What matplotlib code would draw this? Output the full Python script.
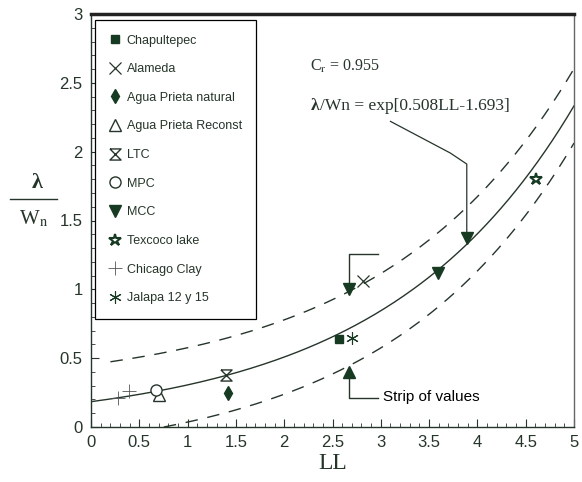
import numpy as np
import matplotlib.pyplot as plt
from matplotlib.lines import Line2D

plt.rcParams['font.family'] = ['Liberation Sans', 'DejaVu Sans']
plt.rcParams['mathtext.fontset'] = 'stix'

ink = '#26352a'
mark = '#173a22'

# fitted relation printed on the chart: lambda/Wn = exp[a*LL + b]
fit_a = 0.508
fit_b = -1.693
band = 0.27          # half width of the strip of values
band_lo_start = 0.75
band_hi_start = 0.2

# measured points (LL, lambda/Wn)
series = ['Chapultepec', 'Alameda', 'Agua Prieta natural', 'Agua Prieta Reconst',
          'LTC', 'MPC', 'MCC', 'Texcoco lake', 'Chicago Clay', 'Jalapa 12 y 15']
ll_vals = {
    'Chapultepec': [2.57],
    'Alameda': [2.82],
    'Agua Prieta natural': [1.42],
    'Agua Prieta Reconst': [0.70],
    'LTC': [1.40],
    'MPC': [0.67],
    'MCC': [3.59],
    'Texcoco lake': [4.61],
    'Chicago Clay': [0.28, 0.39],
    'Jalapa 12 y 15': [2.70],
}
lam_vals = {
    'Chapultepec': [0.64],
    'Alameda': [1.06],
    'Agua Prieta natural': [0.25],
    'Agua Prieta Reconst': [0.23],
    'LTC': [0.38],
    'MPC': [0.27],
    'MCC': [1.12],
    'Texcoco lake': [1.80],
    'Chicago Clay': [0.21, 0.26],
    'Jalapa 12 y 15': [0.645],
}

hourglass = [(-1, 1), (1, 1), (-1, -1), (1, -1), (-1, 1)]
styles = {
    'Chapultepec': dict(marker='s', ms=6, mfc=mark, mec=mark),
    'Alameda': dict(marker='x', ms=9, mew=0.9, mec=ink),
    'Agua Prieta natural': dict(marker='d', ms=7, mfc=mark, mec=mark),
    'Agua Prieta Reconst': dict(marker='^', ms=8, mfc='white', mec=ink, mew=1),
    'LTC': dict(marker=hourglass, ms=8, mfc='white', mec=ink, mew=1),
    'MPC': dict(marker='o', ms=8, mfc='white', mec=ink, mew=1),
    'MCC': dict(marker='v', ms=8, mfc=mark, mec=mark),
    'Texcoco lake': dict(marker='*', ms=9, mfc='white', mec=mark, mew=1.5),
    'Chicago Clay': dict(marker='+', ms=10, mew=0.6, mec='#555'),
    'Jalapa 12 y 15': dict(marker=(6, 2, 0), ms=9, mew=0.8, mec=mark),
}

fig = plt.figure(figsize=(5.82, 4.82), dpi=100)
ax = fig.add_axes([91 / 582, 1 - 427 / 482, 483 / 582, 413 / 482])

# fit curve and strip
x = np.linspace(0, 5, 200)
fit = np.exp(fit_a * x + fit_b)
ax.plot(x, fit, color=ink, lw=1)
xh = x[x >= band_hi_start]
ax.plot(xh, np.exp(fit_a * xh + fit_b) + band, color=ink, lw=1, dashes=(9, 7))
xl = x[x >= band_lo_start]
ax.plot(xl, np.exp(fit_a * xl + fit_b) - band, color=ink, lw=1, dashes=(9, 7))

handles = []
for name in series:
    st = styles[name]
    ax.plot(ll_vals[name], lam_vals[name], ls='none', **st)
    handles.append(Line2D([], [], ls='none', **st))

# arrows pointing at the strip and the fit
ax.plot([2.97, 2.67, 2.67], [1.26, 1.26, 1.03], color=ink, lw=1)
ax.plot([2.67], [1.0], marker='v', ms=8, color=mark)
ax.plot([2.97, 2.67, 2.67], [0.21, 0.21, 0.37], color=ink, lw=1)
ax.plot([2.67], [0.40], marker='^', ms=8, color=mark)
ax.plot([3.10, 3.72, 3.89, 3.89], [2.22, 1.99, 1.91, 1.40], color=ink, lw=0.9)
ax.plot([3.89], [1.37], marker='v', ms=8, color=mark)

ax.text(3.02, 0.22, 'Strip of values', fontsize=11, color='black', va='center')
ax.text(2.27, 2.62, r'C$_\mathrm{r}$ = 0.955', fontsize=11.5, color=ink,
        family='Liberation Serif', va='center')
ax.text(2.27, 2.33, 'λ', fontsize=12.5, fontweight='bold', color=ink,
        family='Liberation Serif', va='center')
ax.text(2.37, 2.33, '/Wn = exp[0.508LL-1.693]', fontsize=12.5, color=ink,
        family='Liberation Serif', va='center')

leg = ax.legend(handles, series, loc='upper left', bbox_to_anchor=(0.008, 0.985),
                borderaxespad=0, fontsize=9, labelspacing=1.33, handlelength=1.0,
                handletextpad=0.4, borderpad=1.15, fancybox=False,
                edgecolor='black', framealpha=1)
leg.get_frame().set_linewidth(0.9)
for t in leg.get_texts():
    t.set_color(ink)

ax.set_xlim(0, 5)
ax.set_ylim(0, 3)
ax.set_xticks(np.arange(0, 5.01, 0.5))
ax.set_xticklabels(['0', '0.5', '1', '1.5', '2', '2.5', '3', '3.5', '4', '4.5', '5'])
ax.set_yticks(np.arange(0, 3.01, 0.5))
ax.set_yticklabels(['0', '0.5', '1', '1.5', '2', '2.5', '3'])
ax.set_xticks(np.arange(0, 5.01, 0.1), minor=True)
ax.set_yticks(np.arange(0, 3.01, 0.1), minor=True)
ax.tick_params(which='both', direction='in', colors=ink, labelsize=12, pad=6)
ax.tick_params(which='major', length=6, width=0.8)
ax.tick_params(which='minor', length=3, width=0.6)
for side in ['left', 'bottom']:
    ax.spines[side].set_color(ink)
    ax.spines[side].set_linewidth(1)
ax.spines['top'].set_linewidth(2.5)
ax.spines['top'].set_color('#222')
ax.spines['right'].set_color('#666')
ax.spines['right'].set_linewidth(1)

ax.set_xlabel('LL', fontsize=17, family='Liberation Serif', color=ink, labelpad=2)

# fraction style y label
fig.text(37 / 582, 1 - 183 / 482, 'λ', fontsize=16, fontweight='bold',
         family='Liberation Serif', color=ink, ha='center', va='center')
fig.add_artist(Line2D([10 / 582, 57 / 582], [1 - 199 / 482, 1 - 199 / 482],
                      color=ink, lw=1))
fig.text(34 / 582, 1 - 219 / 482, r'W$_\mathrm{n}$', fontsize=15,
         family='Liberation Serif', color=ink, ha='center', va='center')

fig.savefig('out.png', dpi=100)
